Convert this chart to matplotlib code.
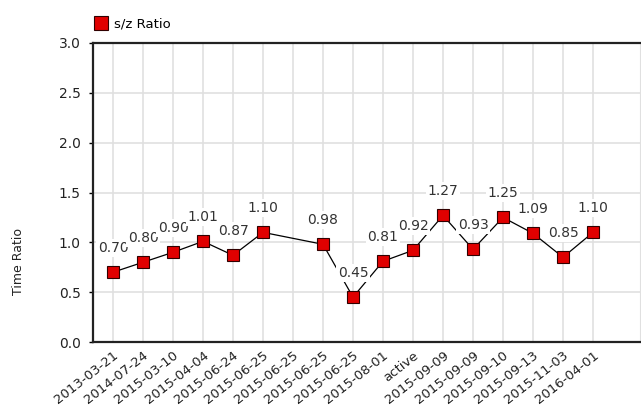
import numpy as np
import matplotlib
matplotlib.use("Agg")
import matplotlib.pyplot as plt

# categories along the x axis
dates = ["2013-03-21", "2014-07-24", "2015-03-10", "2015-04-04", "2015-06-24",
         "2015-06-25", "2015-06-25", "2015-06-25", "2015-06-25", "2015-08-01",
         "active", "2015-09-09", "2015-09-09", "2015-09-10", "2015-09-13",
         "2015-11-03", "2016-04-01"]
# s/z ratio, None = no value for that entry
ratios = [0.70, 0.80, 0.90, 1.01, 0.87, 1.10, None, 0.98, 0.45, 0.81,
          0.92, 1.27, 0.93, 1.25, 1.09, 0.85, 1.10]
y_ticks = [0.0, 0.5, 1.0, 1.5, 2.0, 2.5, 3.0]

plt.rcParams["font.family"] = ["DejaVu Sans"]

fig = plt.figure(figsize=(6.41, 4.12), dpi=100)
ax = fig.add_axes([93 / 641, 70 / 412, (640 - 93) / 641, 299 / 412])

x = np.arange(len(dates))
ok = [i for i, v in enumerate(ratios) if v is not None]
xs = [x[i] for i in ok]
ys = [ratios[i] for i in ok]

ax.plot(xs, ys, color="black", lw=0.9, zorder=3)
ax.plot(xs, ys, "s", ms=8, mfc="#e00000", mec="#300000", mew=0.8,
        ls="none", zorder=10)

# value labels, white boxes cut the line just like the original
for k, (xi, yi) in enumerate(zip(xs, ys)):
    ax.annotate("%.2f" % yi, (xi, yi), xytext=(0, 17.5), textcoords="offset points",
                ha="center", va="center", fontsize=10, color="#333333",
                bbox=dict(boxstyle="square,pad=0.12", fc="white", ec="none"),
                zorder=4 + k * 0.01)

ax.set_xlim(-0.667, (640 - 93) / 30 - 0.667)
ax.set_ylim(0, 3)
ax.set_yticks(y_ticks)
ax.set_yticklabels(["%.1f" % t for t in y_ticks], fontsize=10, color="#222222")
ax.set_xticks(x)
ax.set_xticklabels(dates, rotation=38, ha="right", rotation_mode="anchor",
                   fontsize=9.5, color="#222222")
ax.tick_params(axis="x", length=0, pad=5)
ax.tick_params(axis="y", length=3, width=1, pad=6)

ax.grid(True, color="#e0e0e0", lw=1.2)
ax.set_axisbelow(True)
for s in ["left", "bottom", "top"]:
    ax.spines[s].set_color("#222222")
    ax.spines[s].set_linewidth(1.6)
ax.spines["right"].set_color("#e0e0e0")

ax.set_ylabel("Time Ratio", fontsize=9, color="#222222")
ax.yaxis.set_label_coords(-0.125, 0.27)

h, = ax.plot([], [], "s", ms=9.5, mfc="#e00000", mec="#300000", mew=0.8)
ax.legend([h], ["s/z Ratio"], loc="lower left", bbox_to_anchor=(-0.005, 1.025),
          frameon=False, handlelength=0.8, handletextpad=0.6, fontsize=9.5,
          borderaxespad=0)

fig.savefig("out.png", dpi=100)
